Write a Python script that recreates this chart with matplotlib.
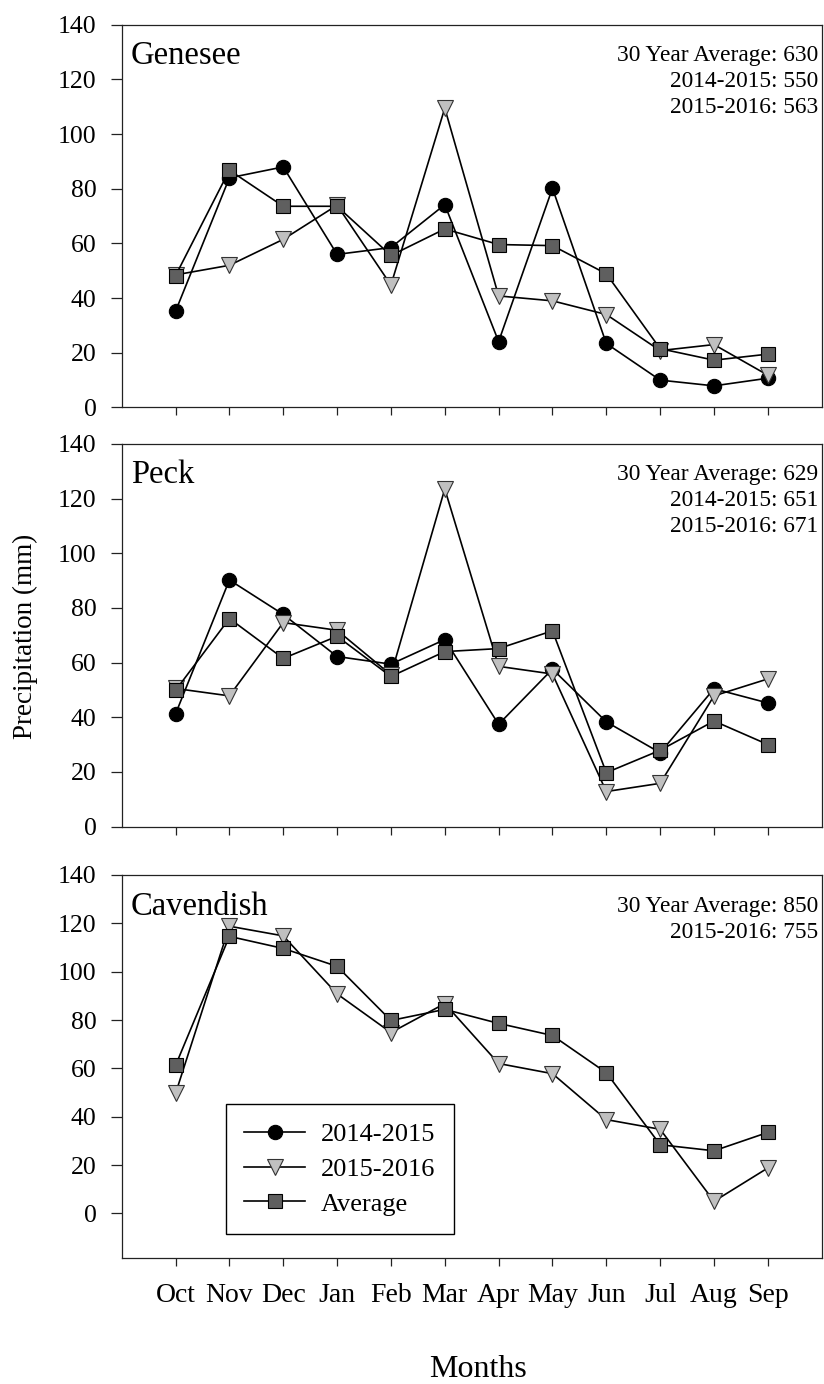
"""Monthly precipitation at three sites, Oct-Sep water years, stacked panels."""

import matplotlib
matplotlib.use("Agg")
import matplotlib.pyplot as plt
from matplotlib.lines import Line2D

plt.rcParams["font.family"] = ["Liberation Serif", "DejaVu Serif"]

months = ["Oct", "Nov", "Dec", "Jan", "Feb", "Mar", "Apr", "May", "Jun", "Jul", "Aug", "Sep"]

genesee_1415 = [35.2, 84.0, 88.0, 56.0, 58.5, 74.2, 24.1, 80.2, 23.4, 10.0, 7.9, 10.7]
genesee_1516 = [48.5, 52.0, 61.5, 74.0, 44.8, 109.5, 40.8, 39.0, 34.0, 20.8, 23.0, 11.8]
genesee_avg = [48.2, 86.8, 73.6, 73.6, 55.6, 65.3, 59.6, 59.2, 48.9, 21.5, 17.3, 19.5]

peck_1415 = [41.2, 90.2, 77.6, 62.2, 59.4, 68.4, 37.4, 57.6, 38.3, 27.0, 50.4, 45.2]
peck_1516 = [50.5, 47.8, 74.6, 71.8, 55.5, 123.5, 58.6, 55.8, 12.8, 15.8, 47.8, 54.0]
peck_avg = [49.8, 76.1, 61.5, 69.6, 54.9, 64.0, 65.1, 71.6, 19.7, 27.9, 38.6, 30.0]

cavendish_1516 = [49.6, 118.8, 114.8, 90.8, 74.8, 86.8, 62.0, 57.8, 38.8, 34.8, 5.0, 18.8]
cavendish_avg = [61.2, 114.6, 109.6, 102.2, 79.8, 84.4, 78.6, 73.6, 58.2, 28.4, 25.9, 33.5]

sites = ["Genesee", "Peck", "Cavendish"]
totals = [
    ["30 Year Average: 630", "2014-2015: 550", "2015-2016: 563"],
    ["30 Year Average: 629", "2014-2015: 651", "2015-2016: 671"],
    ["30 Year Average: 850", "2015-2016: 755"],
]
series = [
    (genesee_1415, genesee_1516, genesee_avg),
    (peck_1415, peck_1516, peck_avg),
    (None, cavendish_1516, cavendish_avg),
]

styles = {
    "1415": dict(marker="o", ms=10.3, mfc="black", mec="black", mew=0.8),
    "1516": dict(marker="v", ms=11.5, mfc="#c0c0c0", mec="#333333", mew=0.8),
    "avg": dict(marker="s", ms=10.2, mfc="#5f5f5f", mec="black", mew=0.8),
}
LINE = dict(color="black", lw=1.2)

fig = plt.figure(figsize=(8.24, 13.84), dpi=100)
ax_left, ax_width, ax_height = 0.1477, 0.8495, 0.2765
bottoms = [0.7056, 0.4028, 0.0913]

x = list(range(len(months)))
for i, (site, (s1415, s1516, savg)) in enumerate(zip(sites, series)):
    ax = fig.add_axes([ax_left, bottoms[i], ax_width, ax_height])
    if s1415 is not None:
        ax.plot(x, s1415, zorder=3, **LINE, **styles["1415"])
    ax.plot(x, s1516, zorder=4, **LINE, **styles["1516"])
    ax.plot(x, savg, zorder=5, **LINE, **styles["avg"])

    ax.set_xlim(-1, 12)
    ax.set_ylim(-18.3 if i == 2 else 0, 140)
    ax.set_yticks(range(0, 141, 20))
    ax.set_xticks(x)
    if i == 2:
        ax.set_xticklabels(months, fontsize=20)
    else:
        ax.set_xticklabels([])
    ax.tick_params(axis="y", direction="out", length=8, width=0.9, pad=10,
                   labelsize=18.5, colors="#222222", labelcolor="black")
    ax.tick_params(axis="x", direction="out", length=5.5, width=0.9, pad=13,
                   colors="#222222", labelcolor="black")
    for sp in ax.spines.values():
        sp.set_linewidth(0.9)
        sp.set_color("#222222")

    ax.text(0.0133, 0.8966, site, transform=ax.transAxes, fontsize=23.5,
            ha="left", va="baseline")
    for j, line in enumerate(totals[i]):
        ax.text(0.9947, 0.9045 - 0.068 * j, line, transform=ax.transAxes,
                fontsize=16.8, ha="right", va="baseline")

    if i == 2:
        handles = [
            Line2D([], [], **LINE, **styles["1415"]),
            Line2D([], [], **LINE, **styles["1516"]),
            Line2D([], [], **LINE, **styles["avg"]),
        ]
        leg = ax.legend(handles, ["2014-2015", "2015-2016", "Average"],
                        loc="lower left", bbox_to_anchor=(0.149, 0.0617),
                        borderaxespad=0, fontsize=19, fancybox=False,
                        edgecolor="black", framealpha=1, handlelength=2.3,
                        handletextpad=0.6, labelspacing=0.43, borderpad=0.7)
        leg.get_frame().set_linewidth(1.0)

fig.text(0.0303, 0.540, "Precipitation (mm)", rotation=90, fontsize=19.5,
         ha="center", va="center")
fig.text(0.58, 0.0, "Months", fontsize=23, ha="center", va="bottom")

fig.savefig("out.png", dpi=100)
